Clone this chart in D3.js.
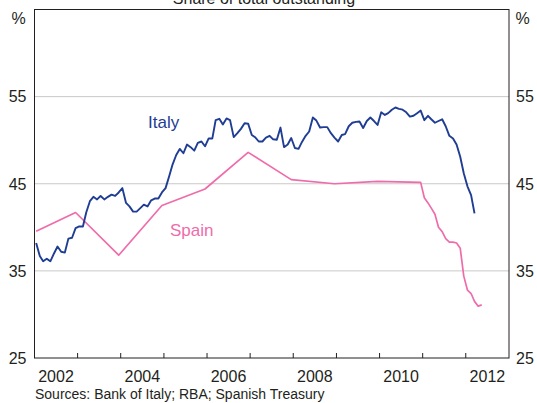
<!DOCTYPE html>
<html>
<head>
<meta charset="utf-8">
<script src="https://cdn.jsdelivr.net/npm/d3@7"></script>
<style>
  body { margin: 0; background: #fff; }
  svg text { font-family: Arial, 'Liberation Sans', sans-serif; fill: #231f20; }
</style>
</head>
<body>
<svg id="chart"></svg>
<script>
// Italy: monthly share, mid-month from Jan 2002 to Mar 2012
const italyFirstMonth = '2002-01-15';
const italyValues = [
  38.2, 36.7, 36.1, 36.4, 36.1, 37.0, 37.8, 37.2, 37.1, 38.7, 38.8, 39.9,
  40.1, 40.1, 41.7, 43.0, 43.5, 43.2, 43.6, 43.2, 43.5, 43.75, 43.6, 44.0,
  44.5, 42.8, 42.4, 41.8, 41.8, 42.2, 42.6, 42.4, 43.1, 43.3, 43.3, 44.0,
  44.5, 45.9, 47.2, 48.3, 49.0, 48.5, 49.5, 49.2, 48.8, 49.7, 49.85, 49.3,
  50.2, 50.2, 52.3, 52.45, 51.8, 52.5, 52.3, 50.35, 50.8, 51.3, 51.95, 51.9,
  50.6, 50.3, 49.85, 49.85, 50.3, 50.5, 50.1, 50.05, 51.45, 49.2, 49.5, 50.25,
  49.1, 49.0, 49.8, 50.5, 51.0, 52.6, 52.25, 51.45, 51.5, 51.5, 50.8, 50.3,
  49.85, 50.6, 50.7, 51.6, 52.0, 52.1, 52.15, 51.4, 52.2, 52.6, 52.2, 51.75,
  53.2, 52.9, 53.1, 53.5, 53.75, 53.6, 53.5, 53.2, 52.7, 52.8, 53.1, 53.4,
  52.3, 52.8, 52.4, 52.0, 52.2, 52.4, 51.6, 50.5, 50.2, 49.5, 48.1, 46.2,
  44.7, 43.7, 41.6
];

// Spain: annual until end 2010, monthly afterwards
const spainDates = [
  '2002-01-15', '2002-12-15', '2003-12-15', '2004-12-15', '2005-12-15',
  '2006-12-15', '2007-12-15', '2008-12-15', '2009-12-15', '2010-12-15',
  '2011-01-15', '2011-02-15', '2011-03-15', '2011-04-15', '2011-05-15',
  '2011-06-15', '2011-07-15', '2011-08-15', '2011-09-15', '2011-10-15',
  '2011-11-15', '2011-12-15', '2012-01-15', '2012-02-15', '2012-03-15',
  '2012-04-15', '2012-05-15'
];
const spainValues = [
  39.55, 41.7, 36.8, 42.5, 44.4, 48.6, 45.47, 45.0, 45.27, 45.16,
  43.4, 42.8, 42.2, 41.5, 40.0, 39.5, 38.7, 38.3, 38.3, 38.2,
  37.6, 34.4, 32.8, 32.4, 31.5, 30.95, 31.1
];

const yTicks = [25, 35, 45, 55];
const yearTicks = [2003, 2004, 2005, 2006, 2007, 2008, 2009, 2010, 2011, 2012];
const yearLabels = [2002, 2004, 2006, 2008, 2010, 2012];

const chartTitle = 'Share of total outstanding';
const sourceNote = 'Sources: Bank of Italy; RBA; Spanish Treasury';

class LineChart {

  constructor(_config) {
    this.config = {
      parentElement: _config.parentElement,
      containerWidth: 537,
      containerHeight: 403,
      margin: { top: 9.5, right: 28, bottom: 45, left: 34.5 },
      italyColor: '#1f3d93',
      spainColor: '#ef6cab'
    };
    this.initVis();
  }

  initVis() {
    let vis = this;

    vis.width = vis.config.containerWidth - vis.config.margin.left - vis.config.margin.right;
    vis.height = 358 - vis.config.margin.top;

    vis.svg = d3.select(vis.config.parentElement)
        .attr('width', vis.config.containerWidth)
        .attr('height', vis.config.containerHeight);

    vis.chart = vis.svg.append('g')
        .attr('transform', `translate(${vis.config.margin.left},${vis.config.margin.top})`);

    vis.xScale = d3.scaleTime()
        .domain([new Date(2002, 0, 1), new Date(2013, 0, 1)])
        .range([0, vis.width]);

    vis.yScale = d3.scaleLinear()
        .domain([25, 65])
        .range([vis.height, 0]);

    vis.updateVis();
  }

  updateVis() {
    let vis = this;
    const parse = d3.timeParse('%Y-%m-%d');
    const start = parse(italyFirstMonth);

    vis.italy = italyValues.map((v, i) => ({ date: d3.timeMonth.offset(start, i), value: v }));
    vis.spain = spainDates.map((d, i) => ({ date: parse(d), value: spainValues[i] }));

    vis.renderVis();
  }

  renderVis() {
    let vis = this;

    // Horizontal gridlines
    vis.chart.selectAll('.grid')
        .data(yTicks.filter(d => d > 25))
        .join('line')
        .attr('class', 'grid')
        .attr('x1', 0)
        .attr('x2', vis.width)
        .attr('y1', d => vis.yScale(d))
        .attr('y2', d => vis.yScale(d))
        .attr('stroke', '#c9c9c9')
        .attr('stroke-width', 1);

    // Year ticks along bottom, pointing inward
    vis.chart.selectAll('.xtick')
        .data(yearTicks)
        .join('line')
        .attr('class', 'xtick')
        .attr('x1', d => vis.xScale(new Date(d, 0, 1)))
        .attr('x2', d => vis.xScale(new Date(d, 0, 1)))
        .attr('y1', vis.height)
        .attr('y2', vis.height - 5)
        .attr('stroke', '#231f20')
        .attr('stroke-width', 1);

    // Lines
    const line = d3.line()
        .x(d => vis.xScale(d.date))
        .y(d => vis.yScale(d.value));

    vis.chart.append('path')
        .datum(vis.spain)
        .attr('fill', 'none')
        .attr('stroke', vis.config.spainColor)
        .attr('stroke-width', 1.7)
        .attr('stroke-linejoin', 'round')
        .attr('d', line);

    vis.chart.append('path')
        .datum(vis.italy)
        .attr('fill', 'none')
        .attr('stroke', vis.config.italyColor)
        .attr('stroke-width', 1.9)
        .attr('stroke-linejoin', 'round')
        .attr('d', line);

    // Frame
    vis.chart.append('rect')
        .attr('width', vis.width)
        .attr('height', vis.height)
        .attr('fill', 'none')
        .attr('stroke', '#231f20')
        .attr('stroke-width', 1);

    // Y labels both sides
    vis.chart.selectAll('.ylabel-left')
        .data(yTicks)
        .join('text')
        .attr('class', 'ylabel-left')
        .attr('x', -8)
        .attr('y', d => vis.yScale(d))
        .attr('dy', '0.36em')
        .attr('text-anchor', 'end')
        .style('font-size', '16px')
        .text(d => d);

    vis.chart.selectAll('.ylabel-right')
        .data(yTicks)
        .join('text')
        .attr('class', 'ylabel-right')
        .attr('x', vis.width + 7)
        .attr('y', d => vis.yScale(d))
        .attr('dy', '0.36em')
        .style('font-size', '16px')
        .text(d => d);

    vis.chart.append('text')
        .attr('x', -16)
        .attr('y', 14.5)
        .attr('text-anchor', 'middle')
        .style('font-size', '16px')
        .text('%');

    vis.chart.append('text')
        .attr('x', vis.width + 13.5)
        .attr('y', 14.5)
        .attr('text-anchor', 'middle')
        .style('font-size', '16px')
        .text('%');

    // Year labels centred in their year
    vis.chart.selectAll('.xlabel')
        .data(yearLabels)
        .join('text')
        .attr('class', 'xlabel')
        .attr('x', d => vis.xScale(new Date(d, 6, 2)))
        .attr('y', vis.height + 24)
        .attr('text-anchor', 'middle')
        .style('font-size', '16px')
        .text(d => d);

    // Series labels
    vis.chart.append('text')
        .attr('x', 148 - vis.config.margin.left)
        .attr('y', 128 - vis.config.margin.top)
        .style('font-size', '17px')
        .style('fill', vis.config.italyColor)
        .text('Italy');

    vis.chart.append('text')
        .attr('x', 170 - vis.config.margin.left)
        .attr('y', 236 - vis.config.margin.top)
        .style('font-size', '17px')
        .style('fill', vis.config.spainColor)
        .text('Spain');

    // Title (cut off at the top, as in the original) and source
    vis.svg.append('text')
        .attr('x', 264)
        .attr('y', 3.5)
        .attr('text-anchor', 'middle')
        .style('font-size', '16px')
        .text(chartTitle);

    vis.svg.append('text')
        .attr('x', 35)
        .attr('y', 398.5)
        .style('font-size', '14px')
        .text(sourceNote);
  }
}

new LineChart({ parentElement: '#chart' });
</script>
</body>
</html>
